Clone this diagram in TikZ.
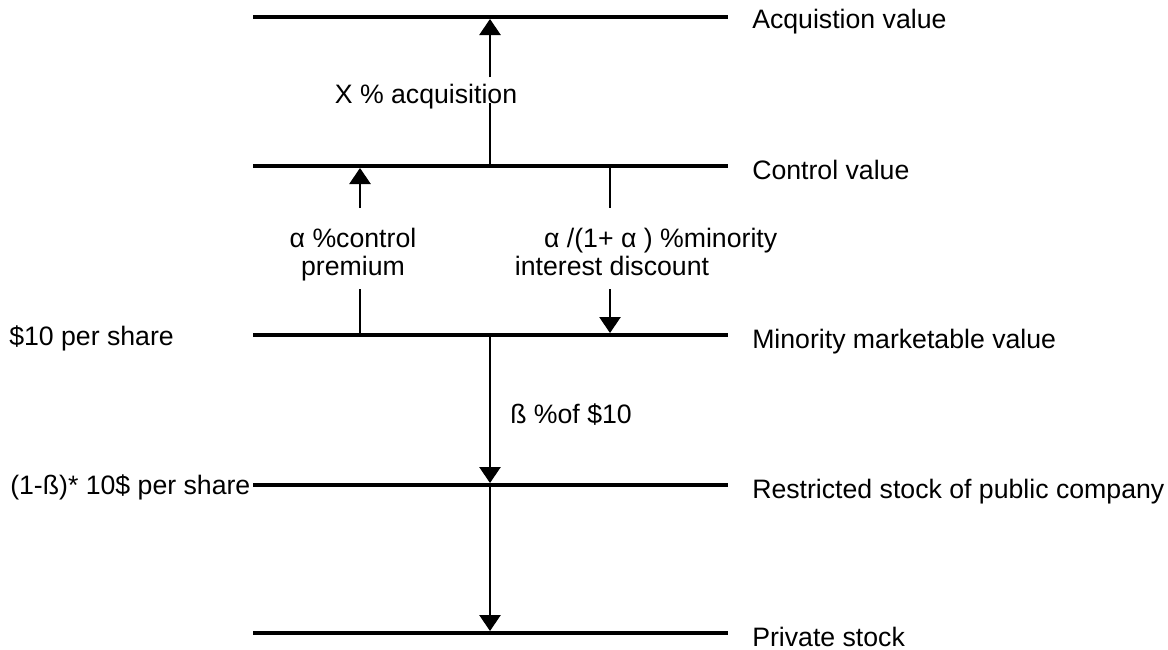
\documentclass[tikz,border=0pt]{standalone}
\usepackage{fontspec}
\setmainfont{Liberation Sans}
\usepackage{xcolor}
\usetikzlibrary{positioning,calc}
\usetikzlibrary{arrows.meta,arrows}
\tikzstyle{lineLevel} =[line width=3.6pt]
\tikzstyle{lineLink}  =[line width=1.1pt]
\tikzstyle{arrowLink} =[line width=1.1pt, -{Triangle[width=16pt,length=12pt]}]
\tikzstyle{textSide}  =[anchor=base west, inner sep=0pt]
\tikzstyle{textMid}   =[inner sep=0pt, align=center]

\begin{document}
\begin{tikzpicture}[x=0.75pt,y=-0.75pt,every node/.style={font=\fontsize{20}{21}\selectfont}]
      \useasboundingbox (0,0) rectangle (1168,650);
      % value levels
      \coordinate (a1) at (253,17);  \coordinate (a2) at (728,17);
      \coordinate (c1) at (253,166); \coordinate (c2) at (728,166);
      \coordinate (m1) at (253,335); \coordinate (m2) at (728,335);
      \coordinate (r1) at (253,485); \coordinate (r2) at (728,485);
      \coordinate (p1) at (253,633); \coordinate (p2) at (728,633);
      \draw[lineLevel] (a1) -- (a2);
      \draw[lineLevel] (c1) -- (c2);
      \draw[lineLevel] (m1) -- (m2);
      \draw[lineLevel] (r1) -- (r2);
      \draw[lineLevel] (p1) -- (p2);
      \node[textSide] (aT) at (752,28)  {Acquistion value};
      \node[textSide] (cT) at (752,179) {Control value};
      \node[textSide] (mT) at (752,348) {Minority marketable value};
      \node[textSide] (rT) at (752,498) {Restricted stock of public company};
      \node[textSide] (pT) at (752,646) {Private stock};
      \node[textSide] (mL) at (9,345)   {\$10 per share};
      \node[textSide] (rL) at (10,494)  {(1-ß)* 10\$ per share};
      % acquisition
      \coordinate (xa) at (490,166); \coordinate (xb) at (490,19);
      \node[textMid, anchor=base, text height=19pt, text depth=0pt] (xL) at (426,103) {X \% acquisition};
      \draw[lineLink] (xa) -- (xa |- xL.south);
      \draw[arrowLink] (xa |- xL.north) -- (xb);
      % control premium
      \coordinate (pa) at (360,335); \coordinate (pb) at (360,168);
      \node[textMid, anchor=north] (prem) at (353,228) {α \%control\\premium};
      \draw[lineLink, shorten >=6pt] (pa) -- (pa |- prem.south);
      \draw[arrowLink, shorten <=15pt] (pa |- prem.north) -- (pb);
      % minority discount
      \coordinate (da) at (610,166); \coordinate (db) at (610,333);
      \node[textMid, anchor=north] (disc) at (612,228) {\hspace*{73pt}α /(1+ α ) \%minority\\interest discount};
      \draw[lineLink, shorten >=15pt] (da) -- (da |- disc.north);
      \draw[arrowLink, shorten <=10pt] (da |- disc.south) -- (db);
      % marketability
      \coordinate (ba) at (490,335); \coordinate (bb) at (490,483);
      \draw[arrowLink] (ba) -- (bb);
      \node[textSide] (bL) at (510,423) {ß \%of \$10};
      \coordinate (qa) at (490,485); \coordinate (qb) at (490,631);
      \draw[arrowLink] (qa) -- (qb);
    \end{tikzpicture}
\end{document}
